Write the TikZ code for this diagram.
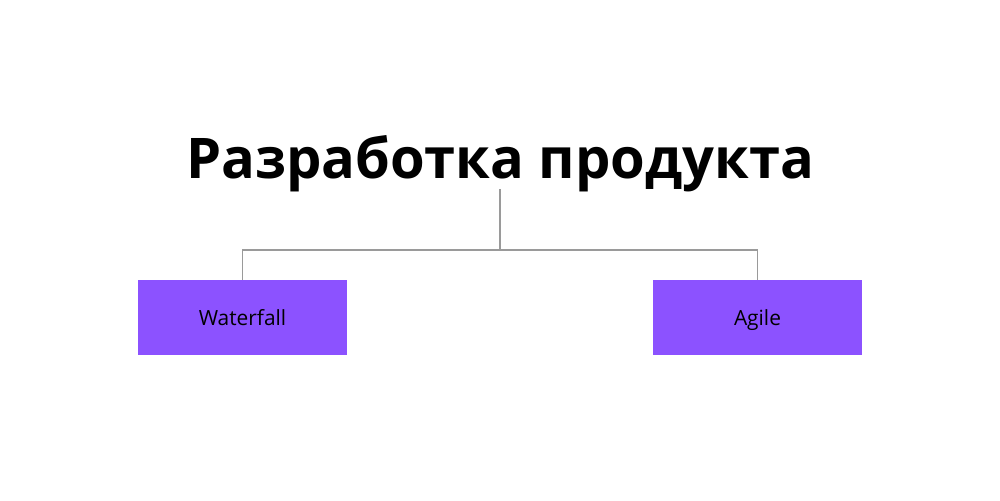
\documentclass[tikz,border=0pt]{standalone}
\usepackage{fontspec}
\setmainfont{Open Sans}
\definecolor{boxpurple}{HTML}{8C52FF}
\definecolor{linegray}{HTML}{9A9A9A}
\tikzset{
  titletext/.style={font=\bfseries\fontsize{31.9}{38}\selectfont, anchor=base, inner sep=0pt},
  methodbox/.style={fill=boxpurple, minimum width=4.18cm, minimum height=1.5cm, inner sep=0pt,
    text height=10pt, text depth=0.4pt, font=\fontsize{11.9}{14}\selectfont},
  branch/.style={draw=linegray, line width=0.6pt}
}
\begin{document}
\begin{tikzpicture}[x=0.02cm, y=-0.02cm]
        % Fijar el tamaño del dibujo
        \useasboundingbox (0,0) rectangle (1000,500);
        
        % Titulo y cajas
        \node[titletext] (titulo) at (500,178) {Разработка продукта};
        \node[methodbox] (waterfall) at (242.5,317.5) {Waterfall};
        \node[methodbox] (agile) at (757.5,317.5) {Agile};
        
        % Lineas de union
        \coordinate (nudo) at (500,250);
        \draw[branch] (500,189) -- (nudo);
        \draw[branch] (nudo) -| (waterfall.north);
        \draw[branch] (nudo) -| (agile.north);
    \end{tikzpicture}
\end{document}
